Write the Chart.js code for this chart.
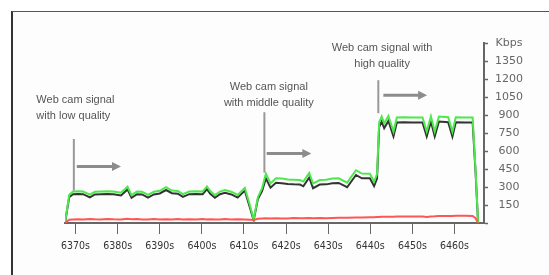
<!DOCTYPE html>
<html>
<head>
<meta charset="utf-8">
<script src="https://cdn.jsdelivr.net/npm/chart.js@4.4.1/dist/chart.umd.min.js"></script>
<style>
  html, body { margin: 0; padding: 0; background: #fff; }
  #wrap { position: relative; width: 549px; height: 275px; overflow: hidden; }
  #frame {
    position: absolute; left: 11px; top: 11px; width: 560px; height: 290px;
    border-left: 2px solid #333; border-top: 1px solid #555; background: #fdfdfd;
  }
  #bitrate { position: absolute; left: 0; top: 0; }
</style>
</head>
<body>
<div id="wrap">
  <div id="frame"></div>
  <canvas id="bitrate" width="549" height="275"></canvas>
</div>
<script>
// seconds on the x axis
const times = [
  6367.5, 6368.5, 6369.4, 6370.6, 6371.8, 6373.4, 6374.6, 6376.0, 6377.4, 6379.0,
  6380.8, 6382.35, 6383.3, 6384.6, 6385.8, 6387.2, 6388.6, 6390.0, 6391.5, 6392.9,
  6394.3, 6395.5, 6397.0, 6398.6, 6400.2, 6401.2, 6402.0, 6403.1, 6404.3, 6405.5,
  6407.0, 6408.5, 6410.2, 6411.4, 6412.3, 6413.3, 6414.3, 6415.2, 6416.3, 6417.6,
  6419.0, 6420.4, 6421.8, 6423.3, 6424.1, 6425.5, 6426.4, 6428.0, 6429.5, 6431.0,
  6432.5, 6434.5, 6436.6, 6438.0, 6439.9, 6440.9, 6441.6, 6442.1, 6442.7, 6443.3,
  6444.3, 6445.5, 6446.3, 6448.0, 6450.0, 6452.4, 6453.4, 6454.4, 6455.3, 6456.3,
  6458.5, 6459.5, 6460.3, 6462.5, 6464.3, 6465.0, 6465.6
];

// Kbps, upper (green) trace
const greenKbps = [
  0, 235, 262, 264, 262, 236, 260, 262, 264, 262,
  252, 302, 232, 262, 260, 234, 260, 268, 298, 270,
  266, 240, 262, 264, 262, 305, 266, 232, 262, 274,
  260, 234, 292, 150, 30, 215, 290, 412, 330, 372,
  370, 362, 360, 358, 345, 418, 328, 358, 360, 370,
  372, 336, 440, 412, 410, 345, 408, 840, 888, 830,
  892, 762, 880, 882, 880, 880, 762, 888, 762, 888,
  882, 760, 882, 880, 880, 440, 0
];

// Kbps, dark trace
const darkKbps = [
  0, 215, 240, 242, 240, 214, 238, 240, 242, 240,
  230, 280, 210, 240, 238, 212, 238, 246, 275, 248,
  244, 218, 240, 242, 240, 282, 244, 210, 240, 252,
  238, 212, 270, 130, 22, 200, 265, 372, 294, 335,
  332, 325, 322, 320, 306, 380, 290, 320, 322, 332,
  334, 298, 400, 372, 372, 308, 370, 800, 845, 790,
  850, 722, 838, 840, 838, 838, 722, 845, 722, 845,
  840, 720, 840, 838, 838, 420, 0
];

// Kbps, red trace
const redKbps = [
  0, 28, 30, 31, 30, 33, 31, 30, 34, 31,
  30, 35, 31, 34, 30, 30, 33, 30, 31, 30,
  33, 30, 31, 30, 33, 30, 31, 30, 30, 33,
  30, 32, 30, 28, 25, 35, 38, 40, 38, 40,
  38, 38, 42, 40, 40, 42, 40, 42, 40, 42,
  44, 44, 46, 46, 48, 48, 50, 50, 52, 52,
  52, 52, 54, 54, 55, 54, 50, 55, 56, 58,
  58, 58, 60, 60, 58, 40, 0
];

const xTicks = [6370, 6380, 6390, 6400, 6410, 6420, 6430, 6440, 6450, 6460];
const yTicks = [0, 150, 300, 450, 600, 750, 900, 1050, 1200, 1350, 1500];

// notes: text lines, marker line and arrow, all in data units (s, Kbps)
const notes = [
  { lines: ['Web cam signal', 'with low quality'], textAt: [6360.7, 1023], align: 'left',
    marker: [6369.6, 700, 270], arrow: [6370.3, 6380.8, 470] },
  { lines: ['Web cam signal', 'with middle quality'], textAt: [6415.9, 1131], align: 'center',
    marker: [6414.85, 923, 420], arrow: [6415.4, 6426.0, 580] },
  { lines: ['Web cam signal with', 'high quality'], textAt: [6442.8, 1456], align: 'center',
    marker: [6441.9, 1190, 915], arrow: [6443.1, 6453.5, 1065] }
];

const toPoints = (vals) => times.map((t, i) => ({ x: t, y: vals[i] }));

const notesPlugin = {
  id: 'notes',
  afterDatasetsDraw(chart) {
    const { ctx, scales: { x, y } } = chart;
    ctx.save();
    for (const n of notes) {
      ctx.font = "11px 'Liberation Sans', Arial, sans-serif";
      ctx.fillStyle = '#555';
      ctx.textAlign = n.align;
      ctx.textBaseline = 'middle';
      const tx = x.getPixelForValue(n.textAt[0]);
      const ty = y.getPixelForValue(n.textAt[1]);
      n.lines.forEach((line, i) => ctx.fillText(line, tx, ty + i * 16));

      // marker line
      const mx = x.getPixelForValue(n.marker[0]);
      ctx.strokeStyle = '#999';
      ctx.lineWidth = 2;
      ctx.beginPath();
      ctx.moveTo(mx, y.getPixelForValue(n.marker[1]));
      ctx.lineTo(mx, y.getPixelForValue(n.marker[2]));
      ctx.stroke();

      // arrow
      const ax0 = x.getPixelForValue(n.arrow[0]);
      const ax1 = x.getPixelForValue(n.arrow[1]);
      const ay = y.getPixelForValue(n.arrow[2]);
      ctx.strokeStyle = '#8c8c8c';
      ctx.fillStyle = '#8c8c8c';
      ctx.lineWidth = 3;
      ctx.beginPath();
      ctx.moveTo(ax0, ay);
      ctx.lineTo(ax1 - 7, ay);
      ctx.stroke();
      ctx.beginPath();
      ctx.moveTo(ax1, ay);
      ctx.lineTo(ax1 - 9, ay - 4.5);
      ctx.lineTo(ax1 - 9, ay + 4.5);
      ctx.closePath();
      ctx.fill();
    }
    ctx.restore();
  }
};

new Chart(document.getElementById('bitrate'), {
  type: 'line',
  data: {
    datasets: [
      { label: 'red', data: toPoints(redKbps), borderColor: '#ff5555', borderWidth: 2 },
      { label: 'green', data: toPoints(greenKbps), borderColor: '#4ee84e', borderWidth: 2 },
      { label: 'dark', data: toPoints(darkKbps), borderColor: '#333', borderWidth: 2 }
    ]
  },
  options: {
    responsive: false,
    animation: false,
    events: [],
    layout: { padding: { left: 65, top: 43, right: 0, bottom: 0 } },
    elements: { point: { radius: 0 }, line: { tension: 0 } },
    plugins: { legend: { display: false }, tooltip: { enabled: false } },
    scales: {
      x: {
        type: 'linear',
        min: 6367.5,
        max: 6467,
        afterBuildTicks: (s) => { s.ticks = xTicks.map(v => ({ value: v })); },
        afterFit: (s) => { s.height = 52; },
        ticks: {
          callback: (v) => v + 's',
          color: '#333',
          padding: 6,
          maxRotation: 0,
          autoSkip: false,
          font: { size: 10.5, family: "'Liberation Sans Narrow', 'DejaVu Sans Condensed', 'Liberation Sans'" }
        },
        grid: { drawOnChartArea: false, tickLength: 11, color: '#666', tickWidth: 1 },
        border: { color: '#666', width: 2 }
      },
      y: {
        position: 'right',
        min: 0,
        max: 1500,
        afterBuildTicks: (s) => { s.ticks = yTicks.map(v => ({ value: v })); },
        afterFit: (s) => { s.width = 65; },
        ticks: {
          callback: (v) => v === 1500 ? 'Kbps' : (v === 0 ? '' : v),
          color: '#666',
          crossAlign: 'center',
          padding: 7,
          font: { size: 11, family: "'DejaVu Sans'" }
        },
        grid: { drawOnChartArea: false, tickLength: 4, color: '#666', tickWidth: 1.5 },
        border: { color: '#666', width: 2 }
      }
    }
  },
  plugins: [notesPlugin]
});
</script>
</body>
</html>
